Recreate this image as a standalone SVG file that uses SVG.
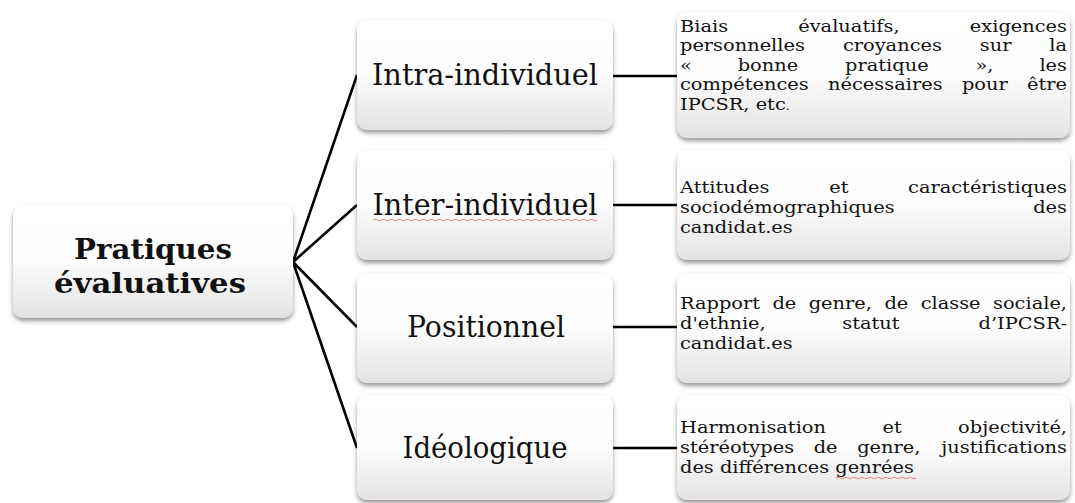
<svg xmlns="http://www.w3.org/2000/svg" width="1075" height="503" viewBox="0 0 1075 503">
<defs>
  <linearGradient id="g" x1="0" y1="0" x2="0" y2="1">
    <stop offset="0" stop-color="#ffffff"/>
    <stop offset="0.5" stop-color="#fdfdfd"/>
    <stop offset="1" stop-color="#e2e2e2"/>
  </linearGradient>
  <filter id="sh" x="-5%" y="-10%" width="110%" height="125%">
    <feDropShadow dx="0" dy="3" stdDeviation="2.2" flood-color="#3a2f2f" flood-opacity="0.5"/>
  </filter>
  <style>
    .box{fill:url(#g);filter:url(#sh)}
    .lbl{font-family:"DejaVu Serif","Liberation Serif",serif;font-size:30px;fill:#111;text-anchor:middle}
    .main{font-family:"DejaVu Serif","Liberation Serif",serif;font-size:28.5px;font-weight:bold;fill:#111;text-anchor:middle}
    .t{font-family:"DejaVu Serif","Liberation Serif",serif;font-size:17px;fill:#111}
    .conn{stroke:#000;stroke-width:2.6;fill:none}
    .sq{stroke:#e88;stroke-width:1;fill:none}
  </style>
</defs>
<rect width="1075" height="503" fill="#fff"/>

<g id="connectors">
  <path class="conn" d="M293 262 L357 75 M293 262 L357 205 M293 262 L357 327 M293 262 L357 448"/>
  <path class="conn" d="M613 76 H678 M613 205 H678 M613 327 H678 M613 448 H678"/>
</g>

<g id="node-main">
  <rect class="box" x="13" y="205" width="280" height="113" rx="10"/>
  <text class="main" x="153" y="259" textLength="158" lengthAdjust="spacingAndGlyphs">Pratiques</text>
  <text class="main" x="150" y="293" textLength="192" lengthAdjust="spacingAndGlyphs">évaluatives</text>
</g>

<g id="node-intra">
  <rect class="box" x="357" y="20" width="256" height="110" rx="10"/>
  <text class="lbl" x="485" y="85" textLength="226" lengthAdjust="spacingAndGlyphs">Intra-individuel</text>
</g>
<g id="node-inter">
  <rect class="box" x="357" y="150" width="256" height="110" rx="10"/>
  <text class="lbl" x="485" y="215" textLength="225" lengthAdjust="spacingAndGlyphs">Inter-individuel</text>
  <path class="sq" d="M373 220 q2 -1.5 4 0 t4 0 t4 0 t4 0 t4 0 t4 0 t4 0 t4 0 t4 0 t4 0 t4 0 t4 0 t4 0 t4 0 t4 0 t4 0 t4 0 t4 0 t4 0 t4 0 t4 0 t4 0 t4 0 t4 0 t4 0 t4 0 t4 0 t4 0 t4 0 t4 0 t4 0 t4 0 t4 0 t4 0 t4 0 t4 0 t4 0 t4 0 t4 0 t4 0 t4 0 t4 0 t4 0 t4 0 t4 0 t4 0 t4 0 t4 0 t4 0 t4 0 t4 0 t4 0 t4 0 t4 0 t4 0 t4 0"/>
</g>
<g id="node-position">
  <rect class="box" x="357" y="273" width="256" height="110" rx="10"/>
  <text class="lbl" x="486" y="337" textLength="158" lengthAdjust="spacingAndGlyphs">Positionnel</text>
</g>
<g id="node-ideo">
  <rect class="box" x="357" y="395" width="256" height="105" rx="10"/>
  <text class="lbl" x="485" y="458" textLength="165" lengthAdjust="spacingAndGlyphs">Idéologique</text>
</g>

<g id="detail-intra">
  <rect class="box" x="677" y="12" width="393" height="126" rx="10"/>
  <g transform="matrix(1.14 0 0 1 -95.2 0)">
    <text class="t" y="32"><tspan x="680">Biais</tspan><tspan x="783.7">évaluatifs,</tspan><tspan x="1019.5" text-anchor="end">exigences</tspan></text>
    <text class="t" y="51.5"><tspan x="680">personnelles</tspan><tspan x="822.9">croyances</tspan><tspan x="943">sur</tspan><tspan x="1019.5" text-anchor="end">la</tspan></text>
    <text class="t" y="71"><tspan x="680">«</tspan><tspan x="730.6">bonne</tspan><tspan x="824.8">pratique</tspan><tspan x="939.2">»,</tspan><tspan x="1019.5" text-anchor="end">les</tspan></text>
    <text class="t" y="90.5"><tspan x="680">compétences</tspan><tspan x="809.9">nécessaires</tspan><tspan x="927.3">pour</tspan><tspan x="1019.5" text-anchor="end">être</tspan></text>
    <text class="t" x="680" y="110">IPCSR, etc<tspan font-size="11px">.</tspan></text>
  </g>
</g>

<g id="detail-inter">
  <rect class="box" x="677" y="150" width="393" height="110" rx="10"/>
  <g transform="matrix(1.14 0 0 1 -95.2 0)">
    <text class="t" y="193"><tspan x="680">Attitudes</tspan><tspan x="811">et</tspan><tspan x="1019.5" text-anchor="end">caractéristiques</tspan></text>
    <text class="t" y="213"><tspan x="680">sociodémographiques</tspan><tspan x="1019.5" text-anchor="end">des</tspan></text>
    <text class="t" x="680" y="233">candidat.es</text>
  </g>
</g>

<g id="detail-position">
  <rect class="box" x="677" y="273" width="393" height="110" rx="10"/>
  <g transform="matrix(1.14 0 0 1 -95.2 0)">
    <text class="t" y="309"><tspan x="680">Rapport</tspan><tspan x="761.1">de</tspan><tspan x="792.9">genre,</tspan><tspan x="859.3">de</tspan><tspan x="891.1">classe</tspan><tspan x="1019.5" text-anchor="end">sociale,</tspan></text>
    <text class="t" y="329"><tspan x="680">d'ethnie,</tspan><tspan x="822.3">statut</tspan><tspan x="1019.5" text-anchor="end">d’IPCSR-</tspan></text>
    <text class="t" x="680" y="349">candidat.es</text>
  </g>
</g>

<g id="detail-ideo">
  <rect class="box" x="677" y="395" width="393" height="105" rx="10"/>
  <g transform="matrix(1.14 0 0 1 -95.2 0)">
    <text class="t" y="433"><tspan x="680">Harmonisation</tspan><tspan x="857.6">et</tspan><tspan x="1019.5" text-anchor="end">objectivité,</tspan></text>
    <text class="t" y="453"><tspan x="680">stéréotypes</tspan><tspan x="797.3">de</tspan><tspan x="835.4">genre,</tspan><tspan x="1019.5" text-anchor="end">justifications</tspan></text>
    <text class="t" x="680" y="473">des différences genrées</text>
  </g>
  <path class="sq" d="M836 478 q2 -1.5 4 0 t4 0 t4 0 t4 0 t4 0 t4 0 t4 0 t4 0 t4 0 t4 0 t4 0 t4 0 t4 0 t4 0 t4 0 t4 0 t4 0 t4 0 t4 0 t4 0"/>
</g>
</svg>
